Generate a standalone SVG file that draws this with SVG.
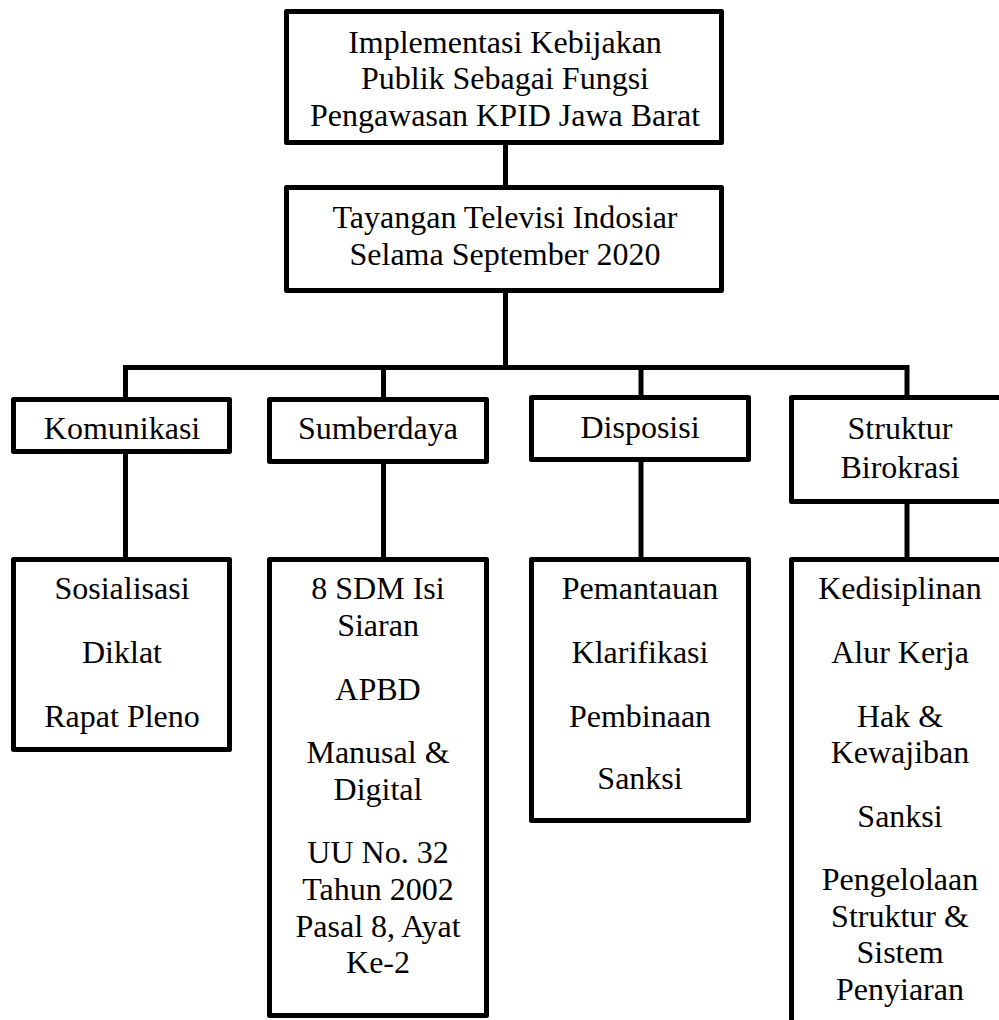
<svg xmlns="http://www.w3.org/2000/svg" width="999" height="1020" viewBox="0 0 999 1020">
<style>
.box{fill:#fff;stroke:#000;stroke-width:5;stroke-linejoin:round}
.con{fill:none;stroke:#000;stroke-width:5;stroke-linejoin:miter}
.t{font-family:'Liberation Serif','Times New Roman',Times,'DejaVu Serif',serif;font-size:32px;fill:#000;text-anchor:middle}
</style>
<rect width="999" height="1020" fill="#fff"/>
<g id="connectors">
<path class="con" d="M505.5,145 V185"/>
<path class="con" d="M505.5,293 V367.5"/>
<path class="con" d="M125.5,398 V367.5 H907 V396"/>
<path class="con" d="M383.5,367.5 V398"/>
<path class="con" d="M641,367.5 V396"/>
<path class="con" d="M125.5,454 V558"/>
<path class="con" d="M383.5,464 V558"/>
<path class="con" d="M641,462 V558"/>
<path class="con" d="M907,504 V558"/>
</g>
<g id="node-top" class="t">
<rect class="box" x="286.5" y="11.5" width="435" height="131"/>
<text x="505" y="53">Implementasi Kebijakan</text>
<text x="505" y="89">Publik Sebagai Fungsi</text>
<text x="505" y="126">Pengawasan KPID Jawa Barat</text>
</g>
<g id="node-tayangan" class="t">
<rect class="box" x="286.5" y="187.5" width="435" height="103"/>
<text x="505" y="228">Tayangan Televisi Indosiar</text>
<text x="505" y="265">Selama September 2020</text>
</g>
<g id="node-komunikasi" class="t">
<rect class="box" x="13.5" y="399.5" width="216" height="52"/>
<text x="122" y="439">Komunikasi</text>
</g>
<g id="node-sumberdaya" class="t">
<rect class="box" x="269.5" y="399.5" width="217" height="62"/>
<text x="378" y="439">Sumberdaya</text>
</g>
<g id="node-disposisi" class="t">
<rect class="box" x="531.5" y="397.5" width="217" height="62"/>
<text x="640" y="438">Disposisi</text>
</g>
<g id="node-struktur" class="t">
<rect class="box" x="791.5" y="397.5" width="230" height="104"/>
<text x="900" y="439">Struktur</text>
<text x="900" y="478">Birokrasi</text>
</g>
<g id="node-komunikasi-items" class="t">
<rect class="box" x="13.5" y="559.5" width="216" height="190"/>
<text x="122" y="599">Sosialisasi</text>
<text x="122" y="663">Diklat</text>
<text x="122" y="727">Rapat Pleno</text>
</g>
<g id="node-sumberdaya-items" class="t">
<rect class="box" x="269.5" y="559.5" width="217" height="456"/>
<text x="378" y="599">8 SDM Isi</text>
<text x="378" y="636">Siaran</text>
<text x="378" y="700">APBD</text>
<text x="378" y="763">Manusal &amp;</text>
<text x="378" y="800">Digital</text>
<text x="378" y="863">UU No. 32</text>
<text x="378" y="900">Tahun 2002</text>
<text x="378" y="937">Pasal 8, Ayat</text>
<text x="378" y="973">Ke-2</text>
</g>
<g id="node-disposisi-items" class="t">
<rect class="box" x="531.5" y="559.5" width="217" height="261"/>
<text x="640" y="599">Pemantauan</text>
<text x="640" y="663">Klarifikasi</text>
<text x="640" y="727">Pembinaan</text>
<text x="640" y="789">Sanksi</text>
</g>
<g id="node-struktur-items" class="t">
<rect class="box" x="791.5" y="559.5" width="230" height="500"/>
<text x="900" y="599">Kedisiplinan</text>
<text x="900" y="663">Alur Kerja</text>
<text x="900" y="727">Hak &amp;</text>
<text x="900" y="763">Kewajiban</text>
<text x="900" y="827">Sanksi</text>
<text x="900" y="890">Pengelolaan</text>
<text x="900" y="927">Struktur &amp;</text>
<text x="900" y="963">Sistem</text>
<text x="900" y="1000">Penyiaran</text>
</g>
</svg>
